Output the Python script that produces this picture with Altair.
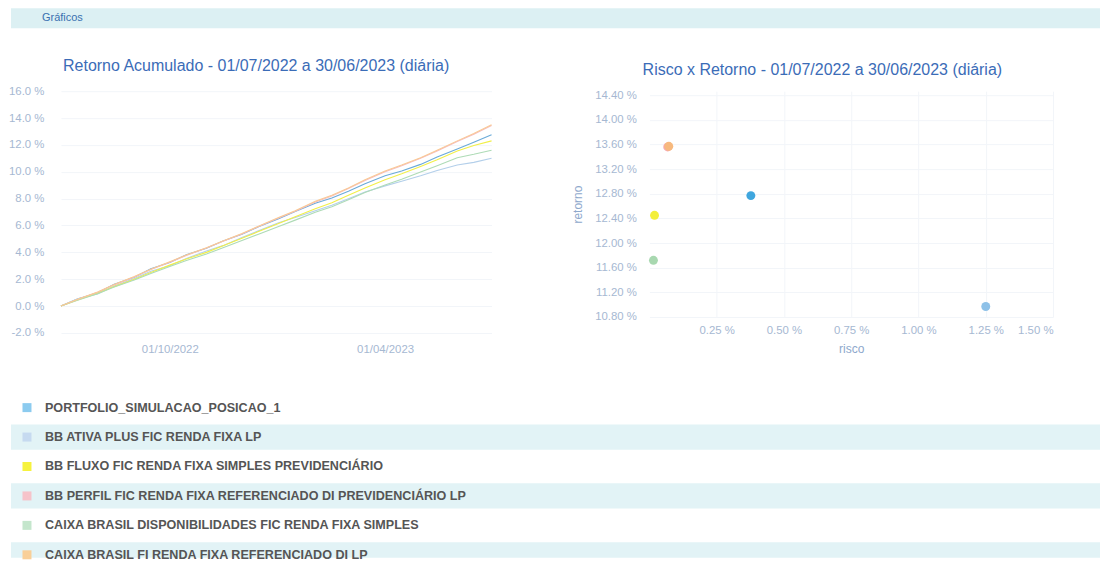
import altair as alt
import pandas as pd

FONT = "Liberation Sans"

# ---------------- data ----------------
names = [
    "PORTFOLIO_SIMULACAO_POSICAO_1",
    "BB ATIVA PLUS FIC RENDA FIXA LP",
    "BB FLUXO FIC RENDA FIXA SIMPLES PREVIDENCIÁRIO",
    "BB PERFIL FIC RENDA FIXA REFERENCIADO DI PREVIDENCIÁRIO LP",
    "CAIXA BRASIL DISPONIBILIDADES FIC RENDA FIXA SIMPLES",
    "CAIXA BRASIL FI RENDA FIXA REFERENCIADO DI LP",
]
line_colors = ["#6aaad9", "#b3cfea", "#f1ef48", "#f5bac3", "#aedbb6", "#f9ca94"]
line_widths = [1.1, 1.1, 2.0, 1.2, 1.1, 1.3]
legend_colors = ["#8ccbef", "#c6daf0", "#f6f23e", "#f6c3ca", "#c4e6cc", "#f9cf98"]
point_colors = ["#3fa6de", "#8ec1e8", "#f3ef3a", "#f5a9b2", "#a8d8b0", "#f7b97e"]

dates = ["2022-07-01", "2022-07-15", "2022-08-01", "2022-08-15", "2022-09-01",
         "2022-09-15", "2022-10-01", "2022-10-15", "2022-11-01", "2022-11-15",
         "2022-12-01", "2022-12-15", "2023-01-01", "2023-01-15", "2023-02-01",
         "2023-02-15", "2023-03-01", "2023-03-15", "2023-04-01", "2023-04-15",
         "2023-05-01", "2023-05-15", "2023-06-01", "2023-06-15", "2023-06-30"]

ret_portfolio = [0, 0.52, 1.00, 1.62, 2.15, 2.78, 3.25, 3.82, 4.30, 4.85, 5.35, 5.90,
                 6.50, 7.05, 7.65, 8.05, 8.55, 9.10, 9.70, 10.05, 10.55, 11.10, 11.70,
                 12.20, 12.75]
ret_ativa = [0, 0.55, 0.90, 1.50, 2.05, 2.60, 3.00, 3.55, 4.10, 4.50, 5.10, 5.60,
             6.20, 6.60, 7.10, 7.50, 8.00, 8.50, 8.95, 9.30, 9.70, 10.10, 10.50,
             10.70, 11.00]
ret_fluxo = [0, 0.45, 0.95, 1.45, 2.00, 2.50, 3.05, 3.50, 4.00, 4.50, 5.05, 5.55,
             6.15, 6.65, 7.25, 7.70, 8.25, 8.80, 9.40, 9.85, 10.40, 10.90, 11.55,
             11.95, 12.30]
ret_perfil = [0, 0.49, 1.03, 1.58, 2.17, 2.72, 3.27, 3.77, 4.32, 4.82, 5.37, 5.92,
              6.56, 7.06, 7.75, 8.20, 8.75, 9.35, 10.00, 10.45, 11.00, 11.55, 12.25,
              12.80, 13.45]
ret_disp = [0, 0.44, 0.92, 1.42, 1.95, 2.42, 2.95, 3.40, 3.88, 4.35, 4.88, 5.35,
            5.92, 6.40, 6.98, 7.40, 7.92, 8.45, 9.02, 9.45, 9.98, 10.45, 11.05,
            11.30, 11.60]
ret_caixa_di = [0, 0.50, 1.05, 1.60, 2.20, 2.75, 3.30, 3.80, 4.35, 4.85, 5.40, 5.95,
                6.60, 7.10, 7.80, 8.25, 8.80, 9.40, 10.05, 10.50, 11.05, 11.60, 12.30,
                12.85, 13.50]
series = [ret_portfolio, ret_ativa, ret_fluxo, ret_perfil, ret_disp, ret_caixa_di]

risco = [0.377, 1.25, 0.019, 0.068, 0.015, 0.072]
retorno = [12.77, 10.97, 12.45, 13.56, 11.72, 13.57]

y_ticks_left = [-2, 0, 2, 4, 6, 8, 10, 12, 14, 16]
y_ticks_right = [10.8, 11.2, 11.6, 12.0, 12.4, 12.8, 13.2, 13.6, 14.0, 14.4]
x_ticks_right = [0.25, 0.5, 0.75, 1.0, 1.25, 1.5]

# ---------------- tables ----------------
rows = []
for nm, vals in zip(names, series):
    for d, v in zip(dates, vals):
        rows.append({"serie": nm, "data": d, "valor": v})
df_lines = pd.DataFrame(rows)

df_sc = pd.DataFrame({"serie": names, "risco": risco, "retorno": retorno, "cor": point_colors})

LEG_BOTTOM = 5.1
df_leg = pd.DataFrame({"nome": names, "cor": legend_colors, "idx": list(range(len(names)))})
df_leg["lo"] = df_leg["idx"] - 0.43
df_leg["hi"] = (df_leg["idx"] + 0.43).clip(upper=LEG_BOTTOM)

LABEL_COLOR = "#a6b8d2"
TITLE_COLOR = "#3b6cb7"
AXTITLE_COLOR = "#8ea8cc"
GRID = "#f2f5f9"
BAND = "#dcf0f3"
LBL = 11.4
PCT1 = "replace(format(datum.value, '.1f'), '\u2212', '-') + ' %'"
PCT2 = "format(datum.value, '.2f') + ' %'"

# ---------------- header ----------------
hdr_df = pd.DataFrame({"t": ["Gráficos"]})
hdr_band = alt.Chart(hdr_df).mark_rect(color=BAND).encode(
    x=alt.value(-50), x2=alt.value(1040), y=alt.value(0), y2=alt.value(20)
)
hdr_text = alt.Chart(hdr_df).mark_text(
    align="left", baseline="middle", font=FONT, fontSize=11, color="#3a70b0"
).encode(x=alt.value(-19), y=alt.value(10), text="t:N")
header = alt.layer(hdr_band, hdr_text).properties(width=1040, height=20)

# ---------------- line chart ----------------
line = alt.Chart(df_lines).mark_line(interpolate="linear").encode(
    x=alt.X("data:T",
            scale=alt.Scale(domain=[alt.DateTime(year=2022, month=7, date=1),
                                    alt.DateTime(year=2023, month=6, date=30)]),
            axis=alt.Axis(title=None,
                          values=[alt.DateTime(year=2022, month=10, date=1),
                                  alt.DateTime(year=2023, month=4, date=1)],
                          format="%d/%m/%Y", grid=False, domain=False, ticks=False,
                          labelColor=LABEL_COLOR, labelFontSize=LBL, labelPadding=11,
                          labelFont=FONT)),
    y=alt.Y("valor:Q", scale=alt.Scale(domain=[-2, 16], nice=False),
            axis=alt.Axis(title=None, values=y_ticks_left, labelExpr=PCT1,
                          domain=False, ticks=False, gridColor=GRID,
                          labelColor=LABEL_COLOR, labelFontSize=LBL, labelPadding=17,
                          labelFont=FONT)),
    color=alt.Color("serie:N", scale=alt.Scale(domain=names, range=line_colors), legend=None),
    strokeWidth=alt.StrokeWidth("serie:N", scale=alt.Scale(domain=names, range=line_widths),
                                legend=None),
).properties(
    width=431, height=242,
    title=alt.TitleParams(text="Retorno Acumulado - 01/07/2022 a 30/06/2023 (diária)",
                          font=FONT, fontSize=16, fontWeight="normal", color=TITLE_COLOR,
                          anchor="middle", frame="bounds", offset=11, dx=5),
)

# ---------------- scatter ----------------
scatter = alt.Chart(df_sc).mark_circle(size=80, opacity=1).encode(
    x=alt.X("risco:Q", scale=alt.Scale(domain=[0, 1.5], nice=False),
            axis=alt.Axis(title="risco", values=x_ticks_right, labelExpr=PCT2,
                          labelFlush=True, domain=False, ticks=False, gridColor=GRID,
                          labelColor=LABEL_COLOR, labelFontSize=LBL, labelPadding=8,
                          titleColor=AXTITLE_COLOR, titleFontSize=12, titleFontWeight="normal",
                          titlePadding=7, labelFont=FONT, titleFont=FONT)),
    y=alt.Y("retorno:Q", scale=alt.Scale(domain=[10.8, 14.465], nice=False, zero=False),
            axis=alt.Axis(title="retorno", values=y_ticks_right, labelExpr=PCT2,
                          domain=False, ticks=False, gridColor=GRID,
                          labelColor=LABEL_COLOR, labelFontSize=LBL, labelPadding=13,
                          titleColor=AXTITLE_COLOR, titleFontSize=12, titleFontWeight="normal",
                          titlePadding=10, labelFont=FONT, titleFont=FONT)),
    color=alt.Color("cor:N", scale=None),
    tooltip=["serie:N", "risco:Q", "retorno:Q"],
).properties(
    width=404, height=226,
    title=alt.TitleParams(text="Risco x Retorno - 01/07/2022 a 30/06/2023 (diária)",
                          font=FONT, fontSize=16, fontWeight="normal", color=TITLE_COLOR,
                          anchor="middle", frame="bounds", offset=11, dx=10),
)

middle = alt.hconcat(line, scatter, spacing=77)

# ---------------- legend ----------------
yscale = alt.Scale(domain=[-0.5, LEG_BOTTOM], reverse=True, nice=False, zero=False)
leg_base = alt.Chart(df_leg)
bands = leg_base.transform_filter("datum.idx % 2 == 1").mark_rect(color="#e2f3f6").encode(
    x=alt.value(-50), x2=alt.value(1040),
    y=alt.Y("lo:Q", scale=yscale, axis=None), y2="hi:Q"
)
swatches = leg_base.mark_square(size=81, opacity=1).encode(
    x=alt.value(-34), y=alt.Y("idx:Q", scale=yscale, axis=None),
    color=alt.Color("cor:N", scale=None)
)
labels = leg_base.mark_text(align="left", baseline="middle", font=FONT, fontSize=12.6,
                            fontWeight="bold", color="#555555").encode(
    x=alt.value(-16), y=alt.Y("idx:Q", scale=yscale, axis=None), text="nome:N"
)
legend = alt.layer(bands, swatches, labels).properties(width=1040, height=165)

lower = alt.vconcat(middle, legend, spacing=37)

chart = alt.vconcat(header, lower, spacing=30).properties(
    padding=0
).configure(background="white").configure_view(stroke=None)

chart.save("out.html", embed_options={"renderer": "svg", "actions": False})
